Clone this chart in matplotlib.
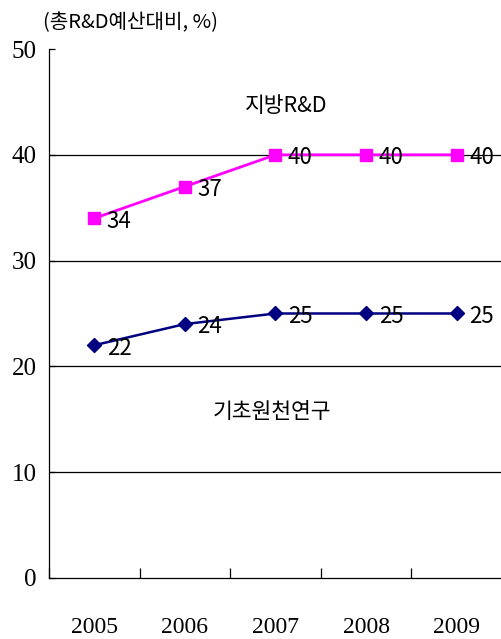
import matplotlib
matplotlib.use("Agg")
import matplotlib.pyplot as plt
import numpy as np

plt.rcParams['font.family'] = ['Noto Sans CJK KR', 'DejaVu Sans']

# data
years = ['2005', '2006', '2007', '2008', '2009']
local_rd = [34, 37, 40, 40, 40]
basic_rd = [22, 24, 25, 25, 25]

x = np.arange(len(years))

fig = plt.figure(figsize=(5.02, 6.39), dpi=100)
ax = fig.add_axes([0.0976, 0.0955, 0.9024, 0.8278])

# horizontal grid at 10..40
for yv in [10, 20, 30, 40]:
    ax.axhline(yv, color='black', lw=0.9, zorder=1)

ax.plot(x, local_rd, color='#FF00FF', lw=2.0, marker='s', ms=9,
        markeredgecolor='#FF00FF', zorder=3)
ax.plot(x, basic_rd, color='#000080', lw=1.8, marker='D', ms=7.5,
        markeredgecolor='#000080', zorder=3)

for xi, v in zip(x, local_rd):
    ax.annotate(str(v), (xi, v), xytext=(9, -2), textcoords='offset points',
                ha='left', va='center', fontsize=16, color='black')
for xi, v in zip(x, basic_rd):
    ax.annotate(str(v), (xi, v), xytext=(9, -2), textcoords='offset points',
                ha='left', va='center', fontsize=16, color='black')

ax.text(2.12, 44.6, '지방R&D', ha='center', va='center', fontsize=15.5)
ax.text(1.96, 15.7, '기초원천연구', ha='center', va='center', fontsize=15.5)

ax.set_xlim(-0.5, 4.4)
ax.set_ylim(0, 50)
ax.set_yticks([0, 10, 20, 30, 40, 50])
ax.set_yticklabels(['0', '10', '20', '30', '40', '50'],
                   family='Liberation Serif', fontsize=18)

ax.set_xticks(np.arange(-0.5, 4.6, 1.0), minor=False)
ax.set_xticklabels([])
ax.set_xticks(x, minor=True)
ax.set_xticklabels(years, minor=True, family='Liberation Serif', fontsize=17)
ax.tick_params(axis='x', which='major', direction='in', length=7, width=0.9)
ax.tick_params(axis='x', which='minor', length=0, pad=28)
ax.tick_params(axis='y', direction='in', length=4.5, width=0.9, pad=9)

for side in ['top', 'right']:
    ax.spines[side].set_visible(False)
for side in ['left', 'bottom']:
    ax.spines[side].set_linewidth(0.9)
    ax.spines[side].set_color('black')

fig.text(0.26, 0.964, '(총R&D예산대비, %)', ha='center', va='center', fontsize=14.5)

fig.savefig('out.png', dpi=100)
